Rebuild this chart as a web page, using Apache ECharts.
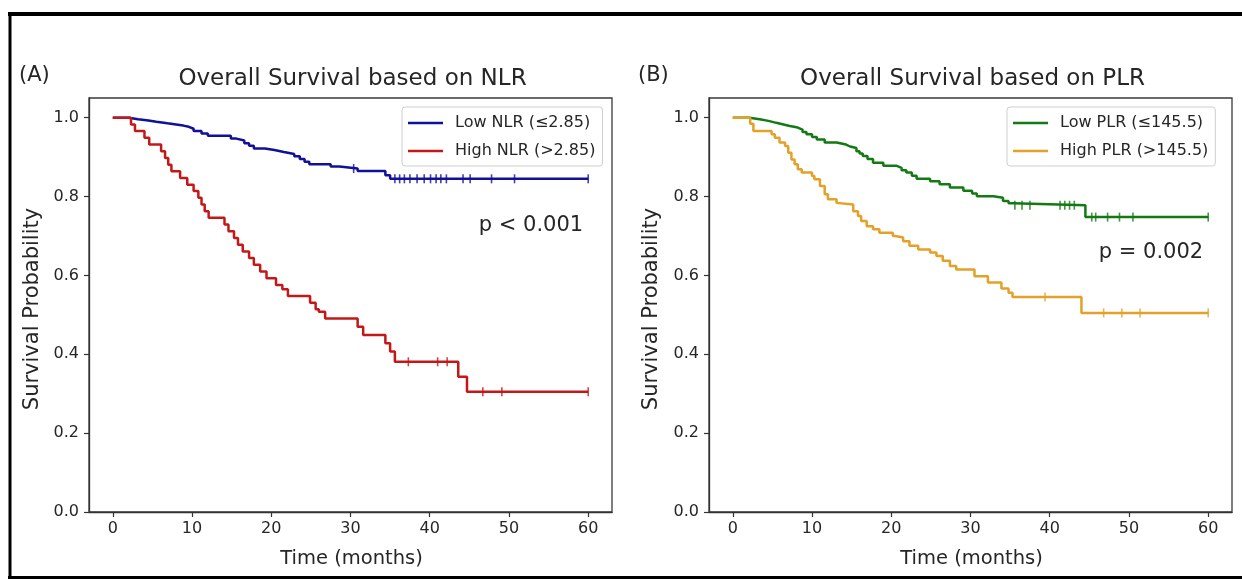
<!DOCTYPE html>
<html><head><meta charset="utf-8">
<script src="https://cdn.jsdelivr.net/npm/echarts@6/dist/echarts.min.js"></script>
<style>html,body{margin:0;padding:0;background:#fff}#c{width:1242px;height:579px}</style>
</head><body><div id="c"></div>
<script>
// ---- tick labels ----
const xTicks = [0, 10, 20, 30, 40, 50, 60];
const yTicks = [0, 0.2, 0.4, 0.6, 0.8, 1.0];

// ---- Panel A: NLR ----
const lowNlrTime = [0, 2.0, 3.2, 4.5, 5.5, 6.9, 8.0, 8.9, 9.6, 10.2, 11.2, 12.0, 14.9, 15.6, 16.6, 17.2, 17.8, 19.2, 20.4, 21.6, 22.9, 23.6, 24.2, 24.8, 27.5, 28.6, 30.9, 34.4, 35.0, 60];
const lowNlrSurv = [1.0, 0.996, 0.993, 0.990, 0.986, 0.983, 0.980, 0.977, 0.972, 0.966, 0.960, 0.954, 0.947, 0.942, 0.935, 0.929, 0.922, 0.918, 0.913, 0.908, 0.902, 0.895, 0.888, 0.882, 0.876, 0.871, 0.865, 0.854, 0.845, 0.845];
const lowNlrCensor = [30.4, 35.6, 36.2, 36.8, 37.5, 38.4, 39.3, 40.1, 40.8, 41.4, 42.1, 44.2, 45.1, 47.8, 50.7, 60];

const highNlrTime = [0, 2.3, 2.8, 4.0, 4.6, 6.1, 6.6, 7.0, 7.4, 8.5, 9.4, 10.2, 10.8, 11.2, 11.6, 12.1, 14.1, 14.6, 15.3, 15.8, 16.4, 17.2, 17.8, 18.6, 19.4, 20.6, 21.4, 22.1, 24.9, 25.6, 26.0, 26.8, 30.9, 31.6, 34.4, 35.0, 35.6, 43.6, 44.7, 60];
const highNlrSurv = [1.0, 0.983, 0.966, 0.949, 0.932, 0.915, 0.898, 0.881, 0.864, 0.847, 0.830, 0.814, 0.797, 0.780, 0.763, 0.746, 0.729, 0.712, 0.695, 0.678, 0.661, 0.644, 0.627, 0.610, 0.593, 0.576, 0.565, 0.548, 0.531, 0.514, 0.508, 0.491, 0.470, 0.449, 0.428, 0.407, 0.381, 0.343, 0.305, 0.305];
const highNlrCensor = [37.3, 41.0, 42.2, 46.7, 49.1, 60];

// ---- Panel B: PLR ----
const lowPlrTime = [0, 2.1, 3.4, 4.5, 5.5, 6.4, 7.2, 8.2, 8.8, 9.3, 10.0, 10.6, 11.6, 13.1, 14.3, 14.8, 15.6, 16.0, 16.4, 17.0, 17.7, 19.0, 20.7, 21.3, 21.9, 22.6, 23.2, 24.9, 26.1, 27.4, 29.1, 30.2, 30.8, 32.9, 34.1, 34.8, 35.4, 44.5, 60];
const lowPlrSurv = [1.0, 0.996, 0.992, 0.987, 0.983, 0.979, 0.975, 0.970, 0.964, 0.958, 0.951, 0.945, 0.937, 0.932, 0.927, 0.923, 0.915, 0.909, 0.903, 0.895, 0.886, 0.878, 0.873, 0.867, 0.861, 0.853, 0.845, 0.839, 0.831, 0.823, 0.815, 0.808, 0.801, 0.797, 0.789, 0.783, 0.778, 0.748, 0.748];
const lowPlrCensor = [35.6, 36.5, 37.5, 41.3, 41.9, 42.5, 43.1, 45.3, 45.8, 47.3, 48.8, 50.5, 60];

const highPlrTime = [0, 2.2, 2.6, 4.9, 5.3, 5.9, 6.6, 7.0, 7.4, 7.8, 8.2, 8.7, 10.0, 10.3, 11.0, 11.6, 12.0, 13.1, 13.3, 15.2, 15.8, 16.2, 16.9, 17.7, 18.5, 20.2, 20.5, 21.5, 22.3, 23.4, 24.9, 25.7, 26.5, 27.4, 28.2, 30.5, 32.2, 33.9, 34.8, 35.3, 44.0, 60];
const highPlrSurv = [1.0, 0.985, 0.966, 0.958, 0.949, 0.937, 0.928, 0.911, 0.894, 0.882, 0.869, 0.861, 0.852, 0.844, 0.827, 0.806, 0.793, 0.784, 0.780, 0.763, 0.751, 0.738, 0.725, 0.717, 0.708, 0.700, 0.696, 0.687, 0.675, 0.666, 0.658, 0.649, 0.637, 0.624, 0.615, 0.598, 0.582, 0.567, 0.556, 0.545, 0.505, 0.505];
const highPlrCensor = [39.4, 46.8, 49.1, 51.4, 60];

const names = ['Low NLR (≤2.85)', 'High NLR (>2.85)', 'Low PLR (≤145.5)', 'High PLR (>145.5)'];
const pTexts = ['p < 0.001', 'p = 0.002'];
const titles = ['Overall Survival based on NLR', 'Overall Survival based on PLR'];
const panelTags = ['(A)', '(B)'];
const xName = 'Time (months)';
const yName = 'Survival Probability';

const FONT = '"DejaVu Sans", sans-serif';
const TXT = '#262626';
const colors = ['#10109a', '#c41818', '#137a13', '#e3a127'];

function pairs(t, s) { return t.map((x, i) => [x, s[i]]); }
function levelAt(t, s, x) { let v = s[0]; for (let i = 0; i < t.length; i++) { if (t[i] <= x) v = s[i]; } return v; }
function censorPts(t, s, c) { return c.map(x => [x, levelAt(t, s, x)]); }

const curves = [
  [lowNlrTime, lowNlrSurv, lowNlrCensor, 0],
  [highNlrTime, highNlrSurv, highNlrCensor, 0],
  [lowPlrTime, lowPlrSurv, lowPlrCensor, 1],
  [highPlrTime, highPlrSurv, highPlrCensor, 1]
];

const grids = [
  { left: 89, top: 98, width: 523, height: 414 },
  { left: 709, top: 98, width: 523, height: 414 }
];

function xAx(i) {
  return {
    type: 'value', gridIndex: i, min: -3, max: 63,
    axisLine: { show: true, onZero: false, lineStyle: { color: '#333', width: 1.3 } },
    axisTick: { show: true, length: 5, customValues: xTicks, lineStyle: { color: '#333', width: 1.2 } },
    axisLabel: { customValues: xTicks, fontSize: 16, color: TXT, fontFamily: FONT, margin: 9 },
    splitLine: { show: false }
  };
}
function yAx(i) {
  return {
    type: 'value', gridIndex: i, min: 0, max: 1.05,
    axisLine: { show: true, onZero: false, lineStyle: { color: '#333', width: 1.3 } },
    axisTick: { show: true, length: 5, customValues: yTicks, lineStyle: { color: '#333', width: 1.2 } },
    axisLabel: { customValues: yTicks, fontSize: 16, color: TXT, fontFamily: FONT, margin: 10, formatter: v => v.toFixed(1) },
    splitLine: { show: false }
  };
}

const series = [];
curves.forEach((c, k) => {
  series.push({
    name: names[k], type: 'line', step: 'end', xAxisIndex: c[3], yAxisIndex: c[3],
    data: pairs(c[0], c[1]), symbol: 'none', lineStyle: { color: colors[k], width: 2.5 },
    itemStyle: { color: colors[k] }, animation: false, z: 2 + k % 2
  });
  series.push({
    name: names[k] + ' censored', type: 'scatter', xAxisIndex: c[3], yAxisIndex: c[3],
    data: censorPts(c[0], c[1], c[2]), symbol: 'rect', symbolSize: [1.6, 9],
    itemStyle: { color: colors[k] }, animation: false, z: 4
  });
});

function legend(i, left) {
  return {
    data: [names[2 * i], names[2 * i + 1]], orient: 'vertical', left: left, top: 107,
    icon: 'rect', itemWidth: 35, itemHeight: 2.5, itemGap: 10,
    padding: [7, 7, 6, 6], borderColor: '#cfcfcf', borderWidth: 1, borderRadius: 3,
    backgroundColor: '#fff', selectedMode: false,
    textStyle: { fontSize: 16, fontFamily: FONT, color: TXT, lineHeight: 18, padding: [0, 0, 0, 7] }
  };
}

const graphic = [
  { type: 'line', shape: { x1: 8, y1: 14, x2: 1242, y2: 14 }, style: { stroke: '#000', lineWidth: 4 } },
  { type: 'line', shape: { x1: 10, y1: 12, x2: 10, y2: 579 }, style: { stroke: '#000', lineWidth: 3 } },
  { type: 'line', shape: { x1: 8, y1: 577.5, x2: 1242, y2: 577.5 }, style: { stroke: '#000', lineWidth: 3 } }
];
const gx = [[89, 612], [709, 1232]];
const tagX = [19, 638];
const pPos = [[531, 226], [1151, 253]];
const yLabX = [33, 652];
[0, 1].forEach(i => {
  const cx = (gx[i][0] + gx[i][1]) / 2 + 2;
  graphic.push({ type: 'text', x: tagX[i], y: 76, style: { text: panelTags[i], fontSize: 21, fontFamily: FONT, fill: TXT, align: 'left', verticalAlign: 'middle' } });
  graphic.push({ type: 'text', x: cx, y: 79, style: { text: titles[i], fontSize: 23, fontFamily: FONT, fill: TXT, align: 'center', verticalAlign: 'middle' } });
  graphic.push({ type: 'text', x: cx - 1, y: 559, style: { text: xName, fontSize: 19.5, fontFamily: FONT, fill: TXT, align: 'center', verticalAlign: 'middle' } });
  graphic.push({ type: 'text', x: yLabX[i], y: 309, rotation: Math.PI / 2, style: { text: yName, fontSize: 21, fontFamily: FONT, fill: TXT, align: 'center', verticalAlign: 'middle' } });
  graphic.push({ type: 'text', x: pPos[i][0], y: pPos[i][1], style: { text: pTexts[i], fontSize: 21, fontFamily: FONT, fill: TXT, align: 'center', verticalAlign: 'middle' } });
});

const chart = echarts.init(document.getElementById('c'), null, { renderer: 'canvas' });
chart.setOption({
  backgroundColor: '#fff',
  animation: false,
  grid: grids.map(g => Object.assign({ show: true, borderColor: '#3a3a3a', borderWidth: 1.3, backgroundColor: 'transparent' }, g)),
  xAxis: [xAx(0), xAx(1)],
  yAxis: [yAx(0), yAx(1)],
  legend: [legend(0, 402), legend(1, 1007)],
  series: series,
  graphic: graphic
});
</script></body></html>
